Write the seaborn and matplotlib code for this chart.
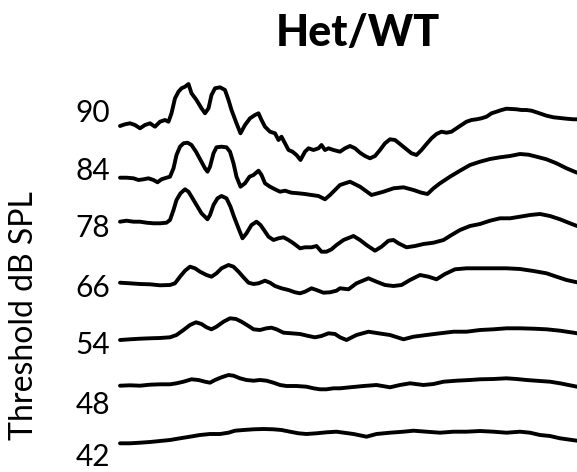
import numpy as np
import pandas as pd
import matplotlib
matplotlib.use("Agg")
import matplotlib.pyplot as plt
import seaborn as sns

# ---------------- data ----------------
levels = ["90", "84", "78", "66", "54", "48", "42"]   # dB SPL
tick_labels = ["90", "84", "78", "66", "54", "48", "42"]

t90 = [0, 0.10, 0.20, 0.30, 0.40, 0.50, 0.60, 0.70, 0.80, 0.90, 0.97, 1.03, 1.10, 1.17, 1.23, 1.30, 1.37,
       1.43, 1.53, 1.63, 1.70, 1.77, 1.83, 1.90, 2.00, 2.10, 2.17, 2.23, 2.33, 2.41, 2.50, 2.60, 2.70, 2.77,
       2.83, 2.90, 3.00, 3.10, 3.17, 3.23, 3.30, 3.37, 3.45, 3.53, 3.61, 3.70, 3.77, 3.87, 3.97, 4.03, 4.10,
       4.17, 4.27, 4.40, 4.50, 4.60, 4.70, 4.80, 4.90, 5.00, 5.10, 5.20, 5.30, 5.40, 5.50, 5.60, 5.73, 5.83,
       5.93, 6.03, 6.13, 6.23, 6.33, 6.43, 6.53, 6.63, 6.73, 6.83, 6.93, 7.03, 7.13, 7.23, 7.33, 7.43, 7.53,
       7.63, 7.73, 7.83, 7.93, 8.03, 8.13, 8.23, 8.33, 8.43, 8.53, 8.67, 8.80, 8.93, 9.07, 9.14]
a90 = [0, 0.034, 0.054, 0.020, -0.046, 0.020, 0.054, -0.014, 0.086, 0.120, 0.086, 0.254, 0.554, 0.686,
       0.754, 0.786, 0.840, 0.654, 0.520, 0.354, 0.254, 0.354, 0.620, 0.754, 0.774, 0.720, 0.520, 0.320,
       0.054, -0.146, 0.020, 0.154, 0.220, 0.254, 0.120, -0.014, -0.114, -0.146, -0.280, -0.214, -0.346,
       -0.480, -0.514, -0.580, -0.680, -0.514, -0.446, -0.480, -0.446, -0.380, -0.480, -0.446, -0.480,
       -0.514, -0.446, -0.400, -0.446, -0.534, -0.600, -0.646, -0.600, -0.480, -0.346, -0.266, -0.280,
       -0.360, -0.466, -0.546, -0.580, -0.480, -0.360, -0.246, -0.160, -0.114, -0.134, -0.114, -0.046,
       0.020, 0.086, 0.120, 0.134, 0.154, 0.186, 0.254, 0.286, 0.320, 0.346, 0.340, 0.334, 0.320, 0.320,
       0.306, 0.274, 0.240, 0.206, 0.174, 0.160, 0.146, 0.134, 0.134]

t84 = [0, 0.13, 0.27, 0.37, 0.47, 0.57, 0.67, 0.75, 0.83, 0.93, 1.00, 1.07, 1.13, 1.20, 1.27, 1.35, 1.43,
       1.52, 1.61, 1.70, 1.75, 1.80, 1.87, 1.93, 2.03, 2.13, 2.20, 2.27, 2.33, 2.41, 2.50, 2.59, 2.67, 2.77,
       2.83, 2.90, 3.00, 3.10, 3.20, 3.30, 3.43, 3.57, 3.70, 3.83, 3.97, 4.10, 4.20, 4.30, 4.40, 4.60, 4.80,
       5.03, 5.27, 5.47, 5.67, 5.87, 6.03, 6.15, 6.27, 6.40, 6.60, 6.80, 7.00, 7.20, 7.40, 7.60, 7.80, 8.00,
       8.17, 8.33, 8.53, 8.73, 8.93, 9.14]
a84 = [0, 0, -0.012, -0.046, -0.032, -0.012, -0.046, -0.092, -0.032, 0, 0.020, 0.188, 0.454, 0.620, 0.688,
       0.700, 0.654, 0.520, 0.354, 0.188, 0.120, 0.220, 0.488, 0.608, 0.620, 0.608, 0.520, 0.288, 0.020,
       -0.180, -0.112, 0.020, 0.054, 0.140, 0.054, -0.112, -0.180, -0.232, -0.280, -0.260, -0.300, -0.312,
       -0.326, -0.346, -0.366, -0.432, -0.346, -0.246, -0.146, -0.080, -0.180, -0.346, -0.280, -0.212,
       -0.192, -0.246, -0.300, -0.326, -0.212, -0.112, 0.020, 0.140, 0.254, 0.320, 0.374, 0.408, 0.434,
       0.474, 0.460, 0.420, 0.368, 0.288, 0.188, 0.100]

t78 = [0, 0.13, 0.27, 0.40, 0.53, 0.67, 0.80, 0.93, 1.00, 1.07, 1.13, 1.21, 1.30, 1.37, 1.45, 1.53, 1.63,
       1.75, 1.80, 1.87, 1.95, 2.03, 2.13, 2.21, 2.28, 2.37, 2.45, 2.53, 2.63, 2.73, 2.81, 2.88, 2.97, 3.07,
       3.17, 3.27, 3.37, 3.47, 3.60, 3.70, 3.83, 3.93, 4.03, 4.13, 4.23, 4.33, 4.47, 4.67, 4.80, 4.93, 5.10,
       5.23, 5.37, 5.47, 5.57, 5.73, 5.90, 6.07, 6.27, 6.47, 6.63, 6.80, 7.00, 7.20, 7.40, 7.60, 7.80, 8.00,
       8.20, 8.40, 8.60, 8.80, 9.00, 9.14]
a78 = [0, 0.020, 0, 0, -0.020, -0.032, -0.032, -0.020, 0.034, 0.234, 0.434, 0.568, 0.648, 0.600, 0.468,
       0.334, 0.168, 0.048, 0.134, 0.334, 0.468, 0.514, 0.468, 0.300, 0.100, -0.132, -0.332, -0.232, -0.066,
       0, -0.066, -0.166, -0.300, -0.366, -0.332, -0.312, -0.366, -0.432, -0.532, -0.512, -0.512, -0.486,
       -0.600, -0.600, -0.552, -0.466, -0.366, -0.286, -0.366, -0.466, -0.580, -0.500, -0.380, -0.366,
       -0.432, -0.512, -0.486, -0.446, -0.420, -0.366, -0.266, -0.166, -0.086, -0.046, 0.020, 0.068, 0.068,
       0.100, 0.134, 0.154, 0.114, 0.048, -0.032, -0.086]

t66 = [0, 0.20, 0.40, 0.60, 0.80, 1.00, 1.10, 1.20, 1.30, 1.40, 1.50, 1.60, 1.73, 1.83, 1.93, 2.03, 2.17,
       2.27, 2.37, 2.47, 2.57, 2.67, 2.77, 2.90, 3.00, 3.10, 3.23, 3.37, 3.50, 3.60, 3.70, 3.83, 3.93, 4.07,
       4.20, 4.33, 4.40, 4.57, 4.73, 4.97, 5.13, 5.30, 5.47, 5.63, 5.80, 6.00, 6.17, 6.33, 6.50, 6.70, 6.93,
       7.20, 7.47, 7.73, 8.00, 8.27, 8.53, 8.73, 8.93, 9.14]
a66 = [0, -0.012, -0.026, -0.032, -0.052, -0.046, -0.012, 0.120, 0.240, 0.320, 0.288, 0.220, 0.154, 0.120,
       0.188, 0.288, 0.354, 0.320, 0.220, 0.108, 0, -0.026, -0.012, 0.040, 0, -0.066, -0.112, -0.146, -0.192,
       -0.212, -0.180, -0.112, -0.146, -0.200, -0.192, -0.160, -0.112, -0.132, -0.012, 0.088, 0.020, -0.046,
       -0.066, -0.046, 0.054, 0.154, 0.120, 0.068, 0.174, 0.268, 0.288, 0.288, 0.288, 0.288, 0.274, 0.234,
       0.188, 0.120, 0.054, 0.008]

t54 = [0, 0.20, 0.40, 0.60, 0.80, 1.00, 1.13, 1.27, 1.40, 1.52, 1.63, 1.73, 1.83, 1.93, 2.07, 2.20, 2.32,
       2.43, 2.57, 2.67, 2.80, 2.93, 3.03, 3.13, 3.27, 3.43, 3.60, 3.77, 3.90, 4.03, 4.17, 4.30, 4.40, 4.53,
       4.73, 4.97, 5.17, 5.40, 5.67, 5.87, 6.13, 6.40, 6.67, 6.93, 7.20, 7.47, 7.73, 8.00, 8.27, 8.53, 8.80,
       9.07, 9.14]
a54 = [0, 0.014, 0.026, 0.034, 0.040, 0.054, 0.100, 0.200, 0.300, 0.354, 0.320, 0.254, 0.214, 0.266, 0.366,
       0.434, 0.420, 0.366, 0.280, 0.214, 0.200, 0.234, 0.246, 0.214, 0.146, 0.134, 0.120, 0.080, 0.054,
       0.080, 0.134, 0.120, 0.054, 0, 0.100, 0.166, 0.134, 0.100, 0.014, 0.066, 0.100, 0.134, 0.166, 0.166,
       0.200, 0.214, 0.234, 0.234, 0.226, 0.214, 0.186, 0.146, 0.134]

t48 = [0, 0.20, 0.40, 0.60, 0.80, 1.00, 1.13, 1.27, 1.43, 1.57, 1.70, 1.80, 1.90, 2.03, 2.17, 2.27, 2.40,
       2.53, 2.67, 2.80, 2.93, 3.07, 3.20, 3.33, 3.53, 3.73, 3.87, 4.00, 4.13, 4.27, 4.40, 4.60, 4.87, 5.13,
       5.40, 5.60, 5.80, 6.07, 6.27, 6.47, 6.73, 7.00, 7.20, 7.47, 7.73, 7.93, 8.13, 8.40, 8.60, 8.80, 9.00,
       9.14]
a48 = [0, 0.008, 0, 0.020, 0.028, 0.028, 0.048, 0.080, 0.128, 0.114, 0.080, 0.060, 0.114, 0.168, 0.214,
       0.200, 0.148, 0.114, 0.100, 0.114, 0.100, 0.060, 0.014, -0.006, -0.006, -0.020, -0.052, -0.072,
       -0.072, -0.052, -0.052, -0.032, -0.006, 0.014, -0.032, 0.014, 0.048, 0.014, 0.034, 0.080, 0.100,
       0.114, 0.128, 0.134, 0.148, 0.134, 0.114, 0.094, 0.080, 0.048, 0.008, -0.020]

t42 = [0, 0.20, 0.40, 0.60, 0.80, 1.00, 1.20, 1.40, 1.60, 1.80, 2.00, 2.17, 2.30, 2.47, 2.67, 2.87, 3.07,
       3.23, 3.40, 3.57, 3.73, 3.93, 4.13, 4.33, 4.67, 4.93, 5.13, 5.40, 5.67, 5.87, 6.13, 6.40, 6.67, 6.93,
       7.20, 7.47, 7.73, 8.00, 8.20, 8.40, 8.60, 8.80, 9.14]
a42 = [0, 0, 0.012, 0.026, 0.046, 0.066, 0.100, 0.132, 0.166, 0.186, 0.186, 0.212, 0.252, 0.266, 0.280,
       0.286, 0.280, 0.266, 0.232, 0.200, 0.186, 0.200, 0.220, 0.232, 0.186, 0.132, 0.186, 0.212, 0.232,
       0.252, 0.232, 0.212, 0.232, 0.232, 0.246, 0.232, 0.212, 0.232, 0.212, 0.166, 0.146, 0.100, 0.052]

times = [t90, t84, t78, t66, t54, t48, t42]
amps = [a90, a84, a78, a66, a54, a48, a42]

# ---------------- layout ----------------
trace_offsets = [6.346, 5.312, 4.432, 3.212, 2.066, 1.152, 0.0]   # vertical stacking
tick_positions = [6.65, 5.506, 4.366, 3.15, 2.016, 0.816, -0.22]

rows = []
for lev, tt, aa, off in zip(levels, times, amps, trace_offsets):
    for t, a in zip(tt, aa):
        rows.append({"level": lev, "time_ms": t, "y": a + off})
df = pd.DataFrame(rows)

sns.set_theme(style="white")
plt.rcParams["font.family"] = ["Lato", "DejaVu Sans"]

W, H = 577, 472
fig = plt.figure(figsize=(W / 100, H / 100), dpi=100)
ax = fig.add_axes([120 / W, 0, 457 / W, 412 / H])

sns.lineplot(data=df, x="time_ms", y="y", units="level", estimator=None, sort=False,
             color="black", linewidth=2.8, ax=ax, legend=False)

ax.set_xlim(0, 9.14)
ax.set_ylim(-0.574, 7.666)
for s in ax.spines.values():
    s.set_visible(False)
ax.set_xticks([])
ax.set_yticks(tick_positions)
ax.set_yticklabels(tick_labels, fontsize=21.5, color="black")
ax.tick_params(axis="y", length=0, pad=7)
ax.set_xlabel("")
ax.set_ylabel("")
for line in ax.get_lines():
    line.set_clip_on(False)

fig.text(24 / W, 1 - 316 / H, "Threshold dB SPL", rotation=90, ha="center", va="center",
         fontsize=23, color="black")
fig.text(358 / W, 1 - 33 / H, "Het/WT", ha="center", va="center", fontsize=31,
         fontweight=900, color="black")

fig.savefig("out.png", dpi=100)
